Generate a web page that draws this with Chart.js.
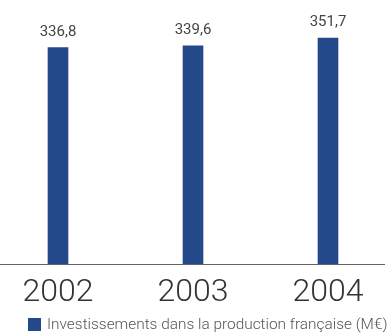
<!DOCTYPE html>
<html>
<head>
<meta charset="utf-8">
<script src="https://cdn.jsdelivr.net/npm/chart.js@4.4.1/dist/chart.umd.min.js"></script>
<style>
  html, body { margin: 0; padding: 0; background: #fff; }
  #wrap { width: 392px; height: 336px; }
</style>
</head>
<body>
<div id="wrap"><canvas id="chart" width="392" height="336"></canvas></div>
<script>
const years = ['2002', '2003', '2004'];
const investments = [336.8, 339.6, 351.7];
const seriesLabel = 'Investissements dans la production française (M€)';
const barColor = '#23498b';

// value above each bar, written with a comma as decimal separator
const valueLabels = {
  id: 'valueLabels',
  afterDatasetsDraw(chart) {
    const ctx = chart.ctx;
    const meta = chart.getDatasetMeta(0);
    ctx.save();
    ctx.font = '15px Roboto';
    ctx.fillStyle = '#444';
    ctx.textAlign = 'center';
    ctx.textBaseline = 'alphabetic';
    meta.data.forEach((bar, i) => {
      const txt = investments[i].toFixed(1).replace('.', ',');
      ctx.fillText(txt, bar.x, bar.y - 12);
    });
    ctx.restore();
  }
};

// horizontal base line running across the whole width
const baseLine = {
  id: 'baseLine',
  afterDatasetsDraw(chart) {
    const ctx = chart.ctx;
    const y = Math.round(chart.scales.y.getPixelForValue(0)) + 0.5;
    ctx.save();
    ctx.strokeStyle = '#666';
    ctx.lineWidth = 1;
    ctx.beginPath();
    ctx.moveTo(0, y);
    ctx.lineTo(385, y);
    ctx.stroke();
    ctx.restore();
  }
};

// single legend entry along the bottom edge
const bottomLegend = {
  id: 'bottomLegend',
  afterDraw(chart) {
    const ctx = chart.ctx;
    const ds = chart.data.datasets[0];
    ctx.save();
    ctx.fillStyle = ds.backgroundColor;
    ctx.fillRect(28, 318, 13, 13);
    ctx.font = '300 15.4px Roboto';
    ctx.fillStyle = '#555';
    ctx.textBaseline = 'middle';
    ctx.fillText(ds.label, 47, 325);
    ctx.restore();
  }
};

new Chart(document.getElementById('chart'), {
  type: 'bar',
  data: {
    labels: years,
    datasets: [{
      label: seriesLabel,
      data: investments,
      backgroundColor: barColor,
      barThickness: 20,
      clip: false
    }]
  },
  options: {
    responsive: false,
    animation: false,
    layout: { padding: { left: 58, right: 64, top: 7, bottom: 22 } },
    scales: {
      x: {
        offset: false,
        grid: { display: false },
        border: { display: false },
        ticks: {
          color: '#333',
          font: { family: 'Roboto', size: 32, weight: 300 },
          padding: 2
        }
      },
      y: {
        display: false,
        min: 0,
        max: 400
      }
    },
    plugins: {
      tooltip: { enabled: false },
      legend: { display: false }
    }
  },
  plugins: [valueLabels, baseLine, bottomLegend]
});
</script>
</body>
</html>
